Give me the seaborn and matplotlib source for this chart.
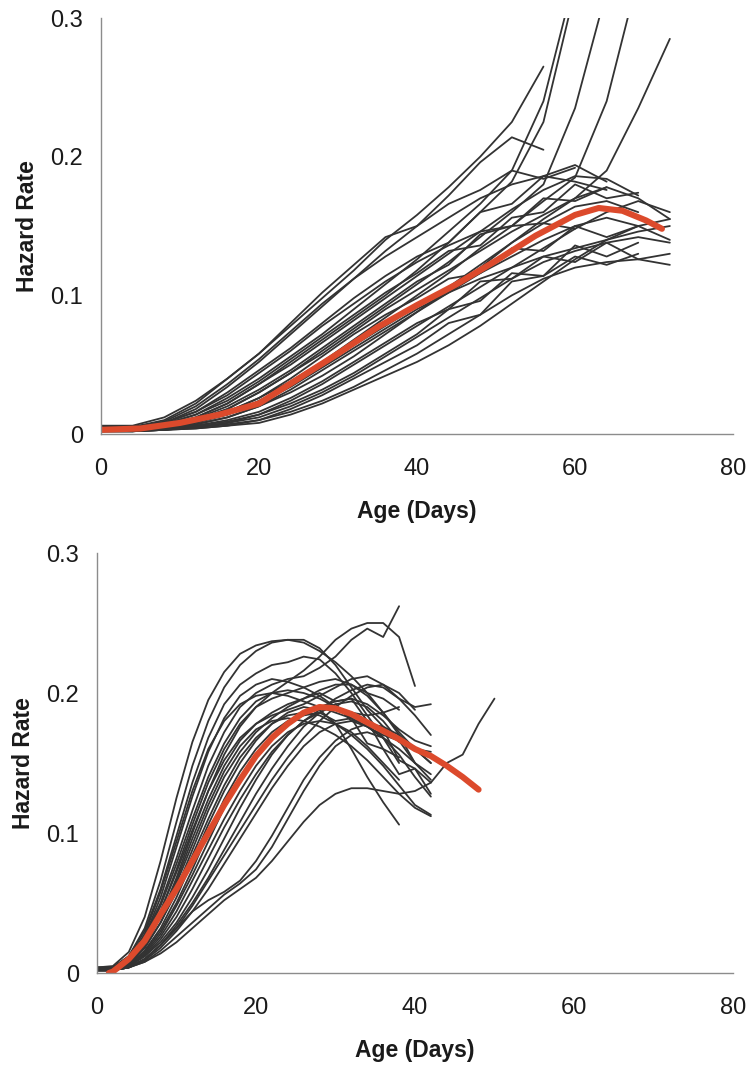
import pandas as pd
import numpy as np
import matplotlib
matplotlib.use("Agg")
import matplotlib.pyplot as plt
import seaborn as sns
from matplotlib.ticker import FuncFormatter

# ---- data ----
# upper panel: cohort hazard curves sampled every 4 days from day 0
top_step = 4
top_cohorts = [
    [0.005, 0.005, 0.010, 0.022, 0.040, 0.058, 0.078, 0.098, 0.118, 0.140, 0.158, 0.178, 0.200, 0.225, 0.265],
    [0.004, 0.004, 0.008, 0.018, 0.034, 0.052, 0.072, 0.092, 0.112, 0.132, 0.150, 0.172, 0.196, 0.214, 0.205],
    [0.003, 0.004, 0.007, 0.014, 0.026, 0.040, 0.056, 0.072, 0.090, 0.108, 0.126, 0.146, 0.166, 0.190, 0.240, 0.330],
    [0.004, 0.003, 0.006, 0.012, 0.022, 0.036, 0.052, 0.068, 0.084, 0.100, 0.118, 0.138, 0.160, 0.182, 0.225, 0.320],
    [0.003, 0.003, 0.005, 0.010, 0.018, 0.030, 0.044, 0.060, 0.076, 0.092, 0.108, 0.124, 0.142, 0.160, 0.180, 0.235, 0.320],
    [0.004, 0.004, 0.006, 0.010, 0.016, 0.026, 0.038, 0.052, 0.068, 0.084, 0.100, 0.116, 0.134, 0.150, 0.168, 0.185, 0.240, 0.330],
    [0.003, 0.003, 0.004, 0.007, 0.012, 0.020, 0.030, 0.042, 0.056, 0.072, 0.088, 0.104, 0.120, 0.138, 0.155, 0.170, 0.190, 0.235, 0.285],
    [0.006, 0.006, 0.012, 0.024, 0.040, 0.058, 0.080, 0.102, 0.122, 0.142, 0.150, 0.166, 0.176, 0.190, 0.184, 0.192],
    [0.005, 0.005, 0.009, 0.020, 0.036, 0.054, 0.074, 0.094, 0.112, 0.128, 0.142, 0.156, 0.170, 0.180, 0.186, 0.182, 0.176],
    [0.004, 0.004, 0.008, 0.016, 0.030, 0.046, 0.062, 0.080, 0.098, 0.114, 0.128, 0.138, 0.160, 0.166, 0.186, 0.194, 0.182],
    [0.003, 0.003, 0.006, 0.012, 0.022, 0.036, 0.050, 0.066, 0.082, 0.098, 0.114, 0.130, 0.146, 0.162, 0.176, 0.186, 0.184, 0.172],
    [0.004, 0.004, 0.007, 0.014, 0.024, 0.038, 0.054, 0.070, 0.086, 0.102, 0.116, 0.132, 0.136, 0.156, 0.160, 0.180, 0.170, 0.174],
    [0.003, 0.003, 0.005, 0.010, 0.018, 0.030, 0.044, 0.058, 0.074, 0.090, 0.104, 0.118, 0.132, 0.146, 0.158, 0.170, 0.178, 0.170, 0.155],
    [0.003, 0.003, 0.004, 0.008, 0.014, 0.024, 0.036, 0.050, 0.064, 0.078, 0.092, 0.106, 0.122, 0.138, 0.152, 0.164, 0.168, 0.160],
    [0.002, 0.002, 0.004, 0.007, 0.012, 0.020, 0.032, 0.046, 0.060, 0.074, 0.088, 0.102, 0.116, 0.128, 0.140, 0.150, 0.156, 0.150, 0.140],
    [0.004, 0.004, 0.006, 0.010, 0.016, 0.026, 0.040, 0.056, 0.072, 0.086, 0.098, 0.112, 0.116, 0.134, 0.132, 0.150, 0.142, 0.150],
    [0.003, 0.003, 0.005, 0.009, 0.014, 0.022, 0.034, 0.048, 0.062, 0.076, 0.090, 0.102, 0.112, 0.120, 0.128, 0.134, 0.140, 0.146, 0.150],
    [0.002, 0.002, 0.003, 0.006, 0.010, 0.016, 0.026, 0.038, 0.052, 0.066, 0.080, 0.090, 0.110, 0.112, 0.128, 0.124, 0.138, 0.126, 0.130],
    [0.002, 0.002, 0.003, 0.005, 0.008, 0.012, 0.020, 0.030, 0.042, 0.056, 0.070, 0.084, 0.098, 0.112, 0.124, 0.132, 0.138, 0.142, 0.138],
    [0.003, 0.003, 0.004, 0.006, 0.009, 0.014, 0.022, 0.032, 0.044, 0.058, 0.072, 0.090, 0.096, 0.116, 0.114, 0.128, 0.122, 0.130],
    [0.002, 0.002, 0.003, 0.004, 0.006, 0.010, 0.016, 0.024, 0.034, 0.046, 0.058, 0.072, 0.086, 0.100, 0.112, 0.120, 0.124, 0.126, 0.122],
    [0.002, 0.002, 0.003, 0.004, 0.006, 0.008, 0.014, 0.022, 0.032, 0.042, 0.052, 0.064, 0.078, 0.094, 0.110, 0.126, 0.140, 0.150, 0.155],
    [0.003, 0.003, 0.004, 0.005, 0.007, 0.010, 0.018, 0.028, 0.040, 0.052, 0.064, 0.080, 0.086, 0.110, 0.114, 0.136, 0.128, 0.138],
    [0.005, 0.005, 0.008, 0.016, 0.028, 0.044, 0.060, 0.078, 0.094, 0.110, 0.124, 0.136, 0.146, 0.150, 0.152, 0.148],
    [0.004, 0.004, 0.006, 0.011, 0.020, 0.032, 0.046, 0.062, 0.078, 0.094, 0.110, 0.122, 0.144, 0.150, 0.170, 0.168, 0.178],
    [0.002, 0.002, 0.003, 0.005, 0.008, 0.014, 0.024, 0.036, 0.050, 0.064, 0.078, 0.092, 0.106, 0.120, 0.134, 0.148, 0.160, 0.168, 0.160],
]
top_mean_age = [0, 5, 10, 15, 20, 25, 30, 35, 40, 45, 50, 55, 60, 63, 66, 69, 71]
top_mean = [0.003, 0.004, 0.008, 0.014, 0.022, 0.040, 0.058, 0.077, 0.093, 0.108, 0.125, 0.143, 0.158, 0.163, 0.161, 0.154, 0.148]

# lower panel: cohort hazard curves sampled every 2 days from day 0
bottom_step = 2
bottom_cohorts = [
    [0.004, 0.005, 0.015, 0.040, 0.080, 0.125, 0.165, 0.195, 0.215, 0.228, 0.234, 0.237, 0.238, 0.236, 0.230, 0.222, 0.212, 0.200, 0.196, 0.188],
    [0.004, 0.004, 0.012, 0.032, 0.066, 0.108, 0.148, 0.180, 0.204, 0.220, 0.230, 0.236, 0.238, 0.238, 0.232, 0.220, 0.204, 0.188, 0.176, 0.165, 0.160],
    [0.003, 0.004, 0.012, 0.030, 0.060, 0.098, 0.136, 0.168, 0.192, 0.206, 0.214, 0.220, 0.222, 0.226, 0.224, 0.214, 0.200, 0.184, 0.168, 0.150],
    [0.003, 0.003, 0.010, 0.026, 0.054, 0.090, 0.126, 0.158, 0.182, 0.198, 0.206, 0.210, 0.208, 0.204, 0.198, 0.190, 0.182, 0.176, 0.170, 0.166, 0.160, 0.158],
    [0.003, 0.003, 0.010, 0.026, 0.050, 0.082, 0.116, 0.148, 0.172, 0.190, 0.200, 0.206, 0.210, 0.212, 0.218, 0.226, 0.238, 0.246, 0.240, 0.262],
    [0.003, 0.003, 0.008, 0.020, 0.040, 0.068, 0.100, 0.130, 0.156, 0.176, 0.190, 0.200, 0.208, 0.216, 0.226, 0.238, 0.246, 0.250, 0.250, 0.240, 0.205],
    [0.003, 0.003, 0.008, 0.022, 0.044, 0.074, 0.106, 0.136, 0.160, 0.178, 0.190, 0.196, 0.200, 0.204, 0.208, 0.210, 0.206, 0.198, 0.186, 0.172, 0.160, 0.150],
    [0.004, 0.004, 0.009, 0.022, 0.044, 0.072, 0.102, 0.130, 0.152, 0.168, 0.178, 0.184, 0.188, 0.192, 0.198, 0.204, 0.210, 0.212, 0.206, 0.196, 0.190, 0.192],
    [0.003, 0.003, 0.008, 0.020, 0.040, 0.066, 0.096, 0.124, 0.148, 0.166, 0.178, 0.186, 0.192, 0.196, 0.200, 0.194, 0.196, 0.180, 0.174, 0.152, 0.146, 0.128],
    [0.003, 0.003, 0.007, 0.018, 0.036, 0.060, 0.088, 0.116, 0.140, 0.158, 0.172, 0.182, 0.190, 0.196, 0.202, 0.206, 0.206, 0.200, 0.186, 0.170, 0.150],
    [0.003, 0.003, 0.007, 0.018, 0.036, 0.058, 0.084, 0.110, 0.134, 0.154, 0.168, 0.178, 0.184, 0.186, 0.184, 0.178, 0.170, 0.160, 0.148, 0.134, 0.120, 0.113],
    [0.002, 0.002, 0.006, 0.016, 0.032, 0.054, 0.080, 0.106, 0.130, 0.150, 0.166, 0.178, 0.186, 0.190, 0.188, 0.178, 0.160, 0.140, 0.122, 0.106],
    [0.002, 0.002, 0.006, 0.015, 0.030, 0.050, 0.074, 0.100, 0.124, 0.144, 0.160, 0.172, 0.180, 0.184, 0.186, 0.180, 0.182, 0.164, 0.160, 0.142, 0.146, 0.136],
    [0.002, 0.002, 0.005, 0.014, 0.028, 0.048, 0.070, 0.094, 0.118, 0.138, 0.154, 0.168, 0.178, 0.186, 0.190, 0.194, 0.196, 0.192, 0.184, 0.174, 0.166, 0.162],
    [0.002, 0.002, 0.005, 0.013, 0.026, 0.044, 0.066, 0.088, 0.110, 0.130, 0.148, 0.162, 0.172, 0.178, 0.180, 0.178, 0.172, 0.162, 0.150, 0.138],
    [0.002, 0.002, 0.005, 0.012, 0.024, 0.040, 0.060, 0.082, 0.104, 0.124, 0.142, 0.158, 0.170, 0.180, 0.188, 0.196, 0.202, 0.206, 0.204, 0.196, 0.184, 0.170],
    [0.002, 0.002, 0.005, 0.012, 0.022, 0.036, 0.054, 0.074, 0.096, 0.118, 0.138, 0.156, 0.170, 0.180, 0.186, 0.192, 0.180, 0.180, 0.160, 0.154],
    [0.002, 0.002, 0.004, 0.010, 0.020, 0.034, 0.050, 0.068, 0.088, 0.108, 0.128, 0.146, 0.162, 0.176, 0.186, 0.192, 0.194, 0.190, 0.180, 0.166, 0.150, 0.138],
    [0.002, 0.002, 0.004, 0.010, 0.020, 0.032, 0.048, 0.066, 0.084, 0.102, 0.120, 0.138, 0.154, 0.168, 0.180, 0.190, 0.198, 0.204, 0.206, 0.200, 0.188],
    [0.002, 0.002, 0.004, 0.009, 0.018, 0.030, 0.044, 0.060, 0.078, 0.096, 0.114, 0.132, 0.148, 0.162, 0.172, 0.178, 0.180, 0.176, 0.168, 0.156, 0.140, 0.126],
    [0.002, 0.002, 0.004, 0.008, 0.016, 0.026, 0.036, 0.046, 0.056, 0.064, 0.074, 0.090, 0.110, 0.130, 0.148, 0.162, 0.170, 0.172, 0.168, 0.160, 0.150, 0.142],
    [0.002, 0.002, 0.004, 0.008, 0.014, 0.022, 0.032, 0.042, 0.052, 0.060, 0.068, 0.080, 0.094, 0.108, 0.120, 0.128, 0.132, 0.132, 0.130, 0.128, 0.130, 0.136, 0.150, 0.156, 0.178, 0.196],
    [0.002, 0.002, 0.004, 0.010, 0.020, 0.032, 0.044, 0.052, 0.058, 0.066, 0.080, 0.098, 0.118, 0.138, 0.154, 0.166, 0.174, 0.178, 0.176, 0.170, 0.160, 0.150],
    [0.003, 0.003, 0.010, 0.028, 0.058, 0.094, 0.130, 0.160, 0.180, 0.192, 0.198, 0.200, 0.198, 0.194, 0.190, 0.186, 0.182, 0.176, 0.168],
    [0.003, 0.003, 0.009, 0.024, 0.048, 0.078, 0.110, 0.140, 0.164, 0.182, 0.194, 0.200, 0.202, 0.200, 0.196, 0.190, 0.186, 0.184, 0.186, 0.190],
    [0.003, 0.003, 0.008, 0.020, 0.040, 0.064, 0.092, 0.120, 0.144, 0.162, 0.174, 0.180, 0.182, 0.180, 0.176, 0.170, 0.162, 0.152, 0.140, 0.128, 0.118, 0.112],
]
bottom_mean_age = [1.5, 2, 4, 6, 8, 10, 12, 14, 16, 18, 20, 22, 24, 26, 28, 30, 32, 34, 36, 38, 40, 42, 44, 46, 48]
bottom_mean = [0.0, 0.001, 0.010, 0.023, 0.042, 0.060, 0.080, 0.100, 0.120, 0.138, 0.155, 0.168, 0.178, 0.186, 0.190,
               0.189, 0.185, 0.179, 0.173, 0.167, 0.160, 0.155, 0.148, 0.140, 0.131]

x_ticks = [0, 20, 40, 60, 80]
y_ticks = [0, 0.1, 0.2, 0.3]


def to_long(cohorts, step):
    rows = []
    for i, vals in enumerate(cohorts):
        for j, v in enumerate(vals):
            rows.append((i, j * step, v))
    return pd.DataFrame(rows, columns=["cohort", "age", "hazard"])


sns.set_style("white")
plt.rcParams["font.family"] = ["Liberation Sans", "DejaVu Sans"]

fig = plt.figure(figsize=(7.5, 10.74), dpi=100)
ax_top = fig.add_axes([0.1347, 0.5959, 0.8427, 0.3873])
ax_bot = fig.add_axes([0.1293, 0.0940, 0.8480, 0.3911])

panels = [
    (ax_top, to_long(top_cohorts, top_step), top_mean_age, top_mean),
    (ax_bot, to_long(bottom_cohorts, bottom_step), bottom_mean_age, bottom_mean),
]

for ax, df, m_age, m_val in panels:
    sns.lineplot(data=df, x="age", y="hazard", units="cohort", estimator=None,
                 color="#333333", linewidth=1.3, ax=ax)
    sns.lineplot(x=m_age, y=m_val, color="#dc4a2c", linewidth=4.4,
                 solid_capstyle="round", ax=ax)
    ax.set_xlim(0, 80)
    ax.set_ylim(0, 0.3)
    ax.set_xticks(x_ticks)
    ax.set_yticks(y_ticks)
    ax.yaxis.set_major_formatter(FuncFormatter(lambda v, _: "0" if v == 0 else f"{v:.1f}"))
    sns.despine(ax=ax)
    for side in ("left", "bottom"):
        ax.spines[side].set_color("#8c8c8c")
        ax.spines[side].set_linewidth(1.0)
    ax.tick_params(axis="both", direction="out", length=5, width=1.0, color="#8c8c8c",
                   labelsize=17, labelcolor="#1a1a1a")
    ax.tick_params(axis="x", pad=12)
    ax.tick_params(axis="y", pad=8)
    ax.set_xlabel("Age (Days)", fontsize=16.5, fontweight="bold", color="#1a1a1a", labelpad=15)
    ax.set_ylabel("Hazard Rate", fontsize=16.5, fontweight="bold", color="#1a1a1a", labelpad=8)

fig.savefig("out.png", dpi=100, facecolor="white")
